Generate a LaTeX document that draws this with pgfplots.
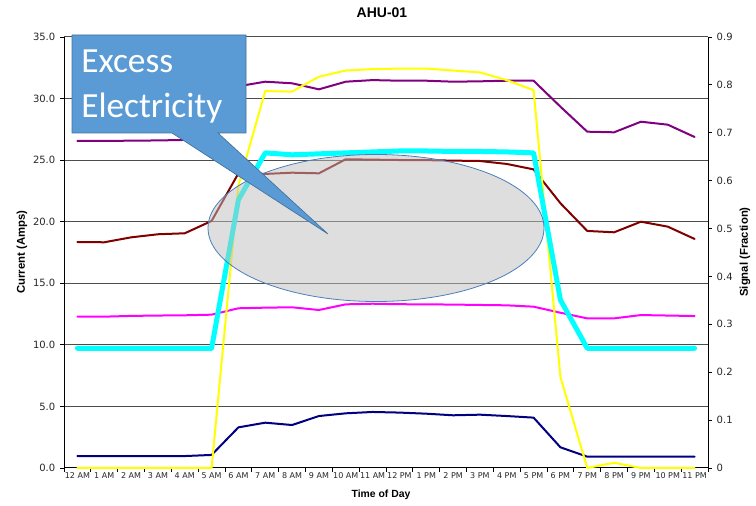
\documentclass[border=0pt]{standalone}
\usepackage{pgfplots}
\pgfplotsset{compat=1.18}
\usepackage{fontspec}
\setmainfont{Liberation Sans}
\newfontfamily\dejavu{DejaVu Sans}
\newfontfamily\carlito{Carlito}
\definecolor{cPurple}{RGB}{128,0,128}
\definecolor{cMaroon}{RGB}{128,0,0}
\definecolor{cMagenta}{RGB}{255,0,255}
\definecolor{cNavy}{RGB}{0,0,128}
\definecolor{cYellow}{RGB}{255,255,0}
\definecolor{cCyan}{RGB}{0,255,255}
\definecolor{calloutFill}{RGB}{91,155,213}
\definecolor{calloutDraw}{RGB}{65,113,156}
\definecolor{ellDraw}{RGB}{74,126,187}
\definecolor{ellFill}{RGB}{190,190,190}
\begin{document}
\begin{tikzpicture}
\path[use as bounding box] (0,0) rectangle (567pt,379.5pt);
\pgfplotsset{
  common/.style={
    scale only axis, width=483pt, height=323.25pt,
    at={(48pt,28.5pt)}, anchor=south west,
    xmin=-0.5, xmax=23.5,
    tick align=outside,
    major tick length=3pt,
    ticklabel style={font=\dejavu\fontsize{7.5}{9}\selectfont, text=black!85},
    /pgf/number format/assume math mode=true,
    every axis plot/.append style={line join=round, line cap=round, mark=none},
    axis line style={line width=0.75pt, black},
    tick style={line width=0.6pt, black},
  }
}
\begin{axis}[common,
  axis x line*=bottom, axis y line*=left,
  ymin=0, ymax=35, ytick={0,5,...,35},
  yticklabel style={/pgf/number format/.cd, fixed, fixed zerofill, precision=1},
  ymajorgrids, grid style={black!70, line width=0.75pt},
  xtick={-0.5,0.5,...,23.5}, xticklabels={},
  extra x ticks={0,1,...,23},
  extra x tick labels={12 AM,1 AM,2 AM,3 AM,4 AM,5 AM,6 AM,7 AM,8 AM,9 AM,10 AM,11 AM,12 PM,1 PM,2 PM,3 PM,4 PM,5 PM,6 PM,7 PM,8 PM,9 PM,10 PM,11 PM},
  extra x tick style={major tick length=0pt, grid=none, ticklabel style={font=\dejavu\fontsize{6}{7}\selectfont}},
]
\addplot[cPurple, line width=1.5pt] coordinates {
(0,26.56) (1,26.56) (2,26.58) (3,26.6) (4,26.64) (5,26.7) (6,31.0) (7,31.37) (8,31.24) (9,30.75) (10,31.37) (11,31.5)
(12,31.45) (13,31.45) (14,31.37) (15,31.4) (16,31.45) (17,31.45) (18,29.34) (19,27.31) (20,27.26) (21,28.12) (22,27.88) (23,26.88)};
\addplot[cMaroon, line width=1.5pt] coordinates {
(0,18.35) (1,18.33) (2,18.73) (3,18.98) (4,19.06) (5,20.06) (6,23.93) (7,23.88) (8,23.98) (9,23.93) (10,25.07) (11,25.04)
(12,25.01) (13,25.0) (14,24.96) (15,24.93) (16,24.69) (17,24.25) (18,21.5) (19,19.25) (20,19.14) (21,20.0) (22,19.6) (23,18.6)};
\addplot[cMagenta, line width=1.5pt] coordinates {
(0,12.29) (1,12.29) (2,12.35) (3,12.38) (4,12.4) (5,12.45) (6,12.97) (7,13.02) (8,13.05) (9,12.83) (10,13.29) (11,13.34)
(12,13.3) (13,13.29) (14,13.27) (15,13.24) (16,13.21) (17,13.1) (18,12.61) (19,12.15) (20,12.15) (21,12.42) (22,12.38) (23,12.34)};
\addplot[cNavy, line width=1.5pt] coordinates {
(0,0.97) (1,0.97) (2,0.97) (3,0.97) (4,0.97) (5,1.06) (6,3.3) (7,3.68) (8,3.49) (9,4.22) (10,4.44) (11,4.55)
(12,4.5) (13,4.41) (14,4.28) (15,4.33) (16,4.22) (17,4.09) (18,1.68) (19,0.92) (20,0.92) (21,0.92) (22,0.92) (23,0.92)};
\end{axis}
\begin{axis}[common, clip=false,
  axis x line=none, axis y line*=right,
  ymin=0, ymax=0.9, ytick={0,0.1,...,0.9},
  yticklabel style={/pgf/number format/.cd, fixed, precision=1},
]
\addplot[cYellow, line width=1.5pt] coordinates {
(0,0) (1,0) (2,0) (3,0) (4,0) (5,0) (6,0.59) (7,0.787) (8,0.786) (9,0.817) (10,0.830) (11,0.833)
(12,0.834) (13,0.834) (14,0.830) (15,0.826) (16,0.810) (17,0.789) (18,0.19) (19,0) (20,0.011) (21,0) (22,0) (23,0)};
\addplot[cCyan, line width=3.75pt] coordinates {
(0,0.25) (1,0.25) (2,0.25) (3,0.25) (4,0.25) (5,0.25) (6,0.56) (7,0.658) (8,0.654) (9,0.656) (10,0.658) (11,0.66)
(12,0.662) (13,0.662) (14,0.661) (15,0.661) (16,0.66) (17,0.658) (18,0.351) (19,0.25) (20,0.25) (21,0.25) (22,0.25) (23,0.25)};
\end{axis}
\begin{scope}[x=0.75pt,y=-0.75pt,yshift=379.5pt]
  % annotation ellipse
  \filldraw[fill=ellFill, fill opacity=0.5, draw=ellDraw, line width=0.6pt] (376,228) ellipse [x radius=168, y radius=73.5];
  % callout
  \filldraw[fill=calloutFill, draw=calloutDraw, line width=0.5pt]
    (72,35) -- (246,35) -- (246,133) -- (218,133) -- (328,234) -- (172,133) -- (72,133) -- cycle;
  \node[anchor=base west, text=white, inner sep=0pt, font=\carlito\fontsize{26.5}{30}\selectfont] at (81,73) {Excess};
  \node[anchor=base west, text=white, inner sep=0pt, font=\carlito\fontsize{26.5}{30}\selectfont] at (81,118) {Electricity};
  % titles and labels
  \node[font=\bfseries\fontsize{10.5}{12}\selectfont] at (382,13) {AHU-01};
  \node[font=\bfseries\fontsize{7.8}{9}\selectfont] at (381,495) {Time of Day};
  \node[font=\bfseries\fontsize{8.5}{10}\selectfont, rotate=90] at (22,252) {Current (Amps)};
  \node[font=\bfseries\fontsize{8.5}{10}\selectfont, rotate=90] at (745,252) {Signal (Fraction)};
\end{scope}
\end{tikzpicture}
\end{document}
